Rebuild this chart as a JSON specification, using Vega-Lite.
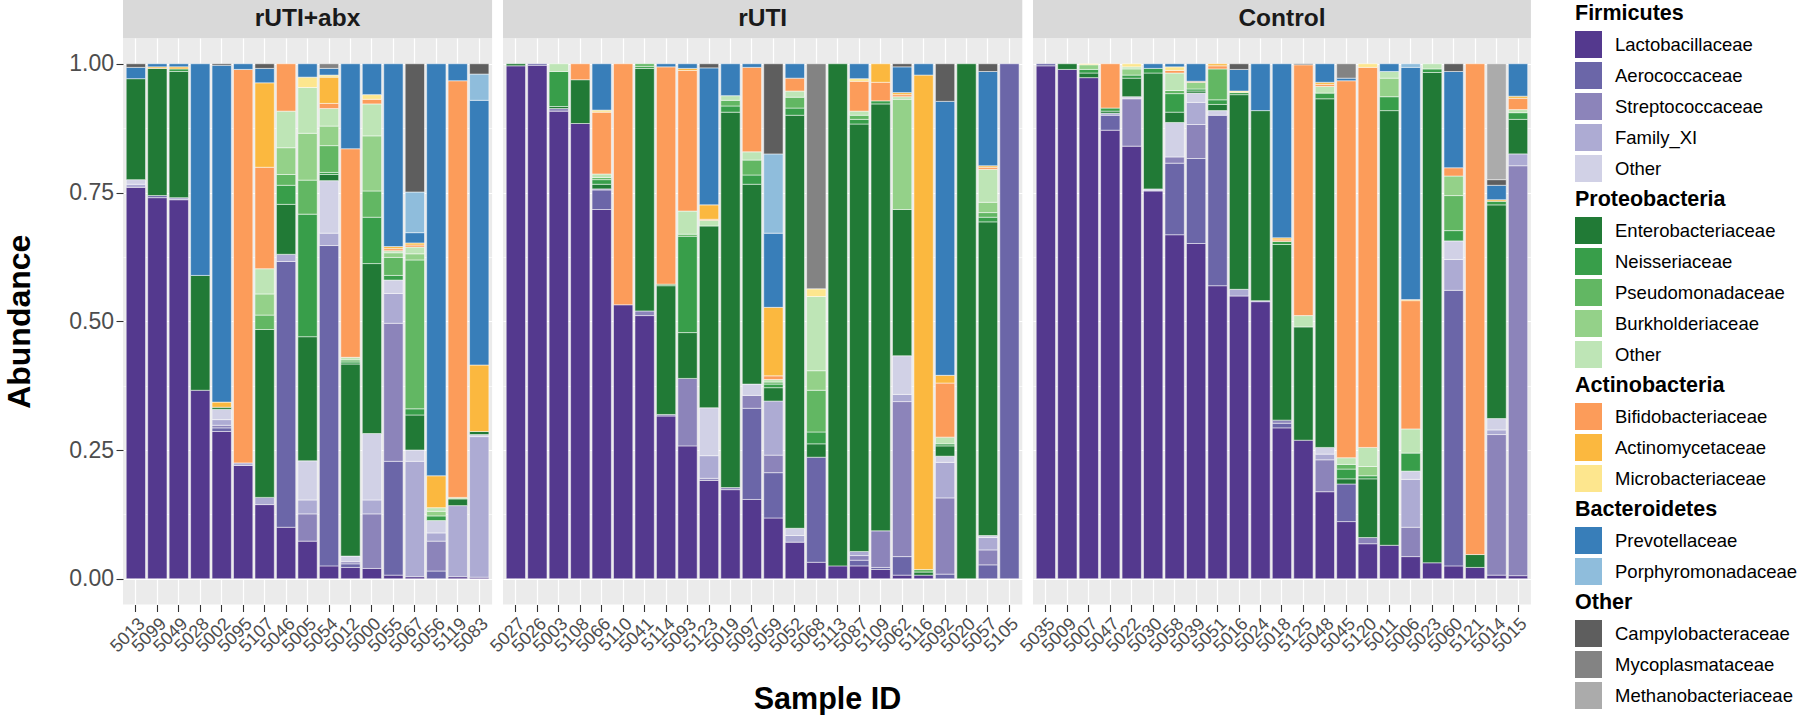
{
  "$schema": "https://vega.github.io/schema/vega-lite/v6.json",
  "padding": {"left": 3, "top": 0, "right": 0, "bottom": 0},
  "background": "white",
  "config": {
    "font": "Liberation Sans",
    "view": {"stroke": null},
    "legend": {
      "orient": "right", "offset": 44, "padding": 0, "symbolType": "square", "symbolSize": 729,
      "symbolStrokeWidth": 0, "symbolOpacity": 1, "rowPadding": 4,
      "labelColor": "black", "labelLimit": 260
    }
  },
  "datasets": {
    "panels": [{"p": "rUTI+abx"}, {"p": "rUTI"}, {"p": "Control"}],
    "fam": [
      {"c": "L", "f": "Lactobacillaceae", "rank": 1},
      {"c": "A", "f": "Aerococcaceae", "rank": 2},
      {"c": "S", "f": "Streptococcaceae", "rank": 3},
      {"c": "F", "f": "Family_XI", "rank": 4},
      {"c": "FO", "f": "Other (Firmicutes)", "rank": 5},
      {"c": "E", "f": "Enterobacteriaceae", "rank": 6},
      {"c": "N", "f": "Neisseriaceae", "rank": 7},
      {"c": "P", "f": "Pseudomonadaceae", "rank": 8},
      {"c": "B", "f": "Burkholderiaceae", "rank": 9},
      {"c": "PO", "f": "Other (Proteobacteria)", "rank": 10},
      {"c": "Bi", "f": "Bifidobacteriaceae", "rank": 11},
      {"c": "Ac", "f": "Actinomycetaceae", "rank": 12},
      {"c": "Mi", "f": "Microbacteriaceae", "rank": 13},
      {"c": "Pr", "f": "Prevotellaceae", "rank": 14},
      {"c": "Po", "f": "Porphyromonadaceae", "rank": 15},
      {"c": "C", "f": "Campylobacteraceae", "rank": 16},
      {"c": "My", "f": "Mycoplasmataceae", "rank": 17},
      {"c": "Me", "f": "Methanobacteriaceae", "rank": 18}
    ],
    "ab": [
      {"p":"rUTI+abx","s":"5013","c":"L","v":0.760},{"p":"rUTI+abx","s":"5013","c":"F","v":0.006},{"p":"rUTI+abx","s":"5013","c":"FO","v":0.009},{"p":"rUTI+abx","s":"5013","c":"E","v":0.196},{"p":"rUTI+abx","s":"5013","c":"Pr","v":0.022},{"p":"rUTI+abx","s":"5013","c":"C","v":0.007},
      {"p":"rUTI+abx","s":"5099","c":"L","v":0.740},{"p":"rUTI+abx","s":"5099","c":"A","v":0.004},{"p":"rUTI+abx","s":"5099","c":"E","v":0.247},{"p":"rUTI+abx","s":"5099","c":"Ac","v":0.003},{"p":"rUTI+abx","s":"5099","c":"Pr","v":0.006},
      {"p":"rUTI+abx","s":"5049","c":"L","v":0.736},{"p":"rUTI+abx","s":"5049","c":"F","v":0.004},{"p":"rUTI+abx","s":"5049","c":"E","v":0.245},{"p":"rUTI+abx","s":"5049","c":"N","v":0.005},{"p":"rUTI+abx","s":"5049","c":"Ac","v":0.004},{"p":"rUTI+abx","s":"5049","c":"Pr","v":0.006},
      {"p":"rUTI+abx","s":"5028","c":"L","v":0.366},{"p":"rUTI+abx","s":"5028","c":"E","v":0.223},{"p":"rUTI+abx","s":"5028","c":"Pr","v":0.411},
      {"p":"rUTI+abx","s":"5002","c":"L","v":0.286},{"p":"rUTI+abx","s":"5002","c":"A","v":0.007},{"p":"rUTI+abx","s":"5002","c":"S","v":0.005},{"p":"rUTI+abx","s":"5002","c":"F","v":0.011},{"p":"rUTI+abx","s":"5002","c":"FO","v":0.020},{"p":"rUTI+abx","s":"5002","c":"E","v":0.004},{"p":"rUTI+abx","s":"5002","c":"Ac","v":0.010},{"p":"rUTI+abx","s":"5002","c":"Pr","v":0.654},{"p":"rUTI+abx","s":"5002","c":"C","v":0.003},
      {"p":"rUTI+abx","s":"5095","c":"L","v":0.220},{"p":"rUTI+abx","s":"5095","c":"F","v":0.005},{"p":"rUTI+abx","s":"5095","c":"Bi","v":0.764},{"p":"rUTI+abx","s":"5095","c":"Pr","v":0.011},
      {"p":"rUTI+abx","s":"5107","c":"L","v":0.144},{"p":"rUTI+abx","s":"5107","c":"F","v":0.014},{"p":"rUTI+abx","s":"5107","c":"E","v":0.326},{"p":"rUTI+abx","s":"5107","c":"P","v":0.028},{"p":"rUTI+abx","s":"5107","c":"B","v":0.041},{"p":"rUTI+abx","s":"5107","c":"PO","v":0.049},{"p":"rUTI+abx","s":"5107","c":"Bi","v":0.197},{"p":"rUTI+abx","s":"5107","c":"Ac","v":0.164},{"p":"rUTI+abx","s":"5107","c":"Pr","v":0.028},{"p":"rUTI+abx","s":"5107","c":"C","v":0.009},
      {"p":"rUTI+abx","s":"5046","c":"L","v":0.100},{"p":"rUTI+abx","s":"5046","c":"A","v":0.516},{"p":"rUTI+abx","s":"5046","c":"F","v":0.014},{"p":"rUTI+abx","s":"5046","c":"E","v":0.097},{"p":"rUTI+abx","s":"5046","c":"N","v":0.037},{"p":"rUTI+abx","s":"5046","c":"P","v":0.021},{"p":"rUTI+abx","s":"5046","c":"B","v":0.052},{"p":"rUTI+abx","s":"5046","c":"PO","v":0.071},{"p":"rUTI+abx","s":"5046","c":"Bi","v":0.092},
      {"p":"rUTI+abx","s":"5005","c":"L","v":0.073},{"p":"rUTI+abx","s":"5005","c":"S","v":0.053},{"p":"rUTI+abx","s":"5005","c":"F","v":0.027},{"p":"rUTI+abx","s":"5005","c":"FO","v":0.076},{"p":"rUTI+abx","s":"5005","c":"E","v":0.241},{"p":"rUTI+abx","s":"5005","c":"N","v":0.238},{"p":"rUTI+abx","s":"5005","c":"P","v":0.066},{"p":"rUTI+abx","s":"5005","c":"B","v":0.091},{"p":"rUTI+abx","s":"5005","c":"PO","v":0.089},{"p":"rUTI+abx","s":"5005","c":"Mi","v":0.020},{"p":"rUTI+abx","s":"5005","c":"Pr","v":0.026},
      {"p":"rUTI+abx","s":"5054","c":"L","v":0.025},{"p":"rUTI+abx","s":"5054","c":"A","v":0.622},{"p":"rUTI+abx","s":"5054","c":"F","v":0.024},{"p":"rUTI+abx","s":"5054","c":"FO","v":0.102},{"p":"rUTI+abx","s":"5054","c":"E","v":0.012},{"p":"rUTI+abx","s":"5054","c":"N","v":0.004},{"p":"rUTI+abx","s":"5054","c":"P","v":0.052},{"p":"rUTI+abx","s":"5054","c":"B","v":0.038},{"p":"rUTI+abx","s":"5054","c":"PO","v":0.034},{"p":"rUTI+abx","s":"5054","c":"Bi","v":0.010},{"p":"rUTI+abx","s":"5054","c":"Ac","v":0.051},{"p":"rUTI+abx","s":"5054","c":"Mi","v":0.004},{"p":"rUTI+abx","s":"5054","c":"Pr","v":0.013},{"p":"rUTI+abx","s":"5054","c":"My","v":0.009},
      {"p":"rUTI+abx","s":"5012","c":"L","v":0.022},{"p":"rUTI+abx","s":"5012","c":"A","v":0.007},{"p":"rUTI+abx","s":"5012","c":"S","v":0.004},{"p":"rUTI+abx","s":"5012","c":"FO","v":0.011},{"p":"rUTI+abx","s":"5012","c":"E","v":0.373},{"p":"rUTI+abx","s":"5012","c":"N","v":0.004},{"p":"rUTI+abx","s":"5012","c":"P","v":0.004},{"p":"rUTI+abx","s":"5012","c":"PO","v":0.005},{"p":"rUTI+abx","s":"5012","c":"Bi","v":0.405},{"p":"rUTI+abx","s":"5012","c":"Pr","v":0.165},
      {"p":"rUTI+abx","s":"5000","c":"L","v":0.020},{"p":"rUTI+abx","s":"5000","c":"S","v":0.106},{"p":"rUTI+abx","s":"5000","c":"F","v":0.027},{"p":"rUTI+abx","s":"5000","c":"FO","v":0.129},{"p":"rUTI+abx","s":"5000","c":"E","v":0.330},{"p":"rUTI+abx","s":"5000","c":"N","v":0.090},{"p":"rUTI+abx","s":"5000","c":"P","v":0.051},{"p":"rUTI+abx","s":"5000","c":"B","v":0.107},{"p":"rUTI+abx","s":"5000","c":"PO","v":0.062},{"p":"rUTI+abx","s":"5000","c":"Bi","v":0.009},{"p":"rUTI+abx","s":"5000","c":"Mi","v":0.009},{"p":"rUTI+abx","s":"5000","c":"Pr","v":0.060},
      {"p":"rUTI+abx","s":"5055","c":"L","v":0.007},{"p":"rUTI+abx","s":"5055","c":"A","v":0.221},{"p":"rUTI+abx","s":"5055","c":"S","v":0.268},{"p":"rUTI+abx","s":"5055","c":"F","v":0.058},{"p":"rUTI+abx","s":"5055","c":"FO","v":0.026},{"p":"rUTI+abx","s":"5055","c":"N","v":0.009},{"p":"rUTI+abx","s":"5055","c":"P","v":0.035},{"p":"rUTI+abx","s":"5055","c":"B","v":0.009},{"p":"rUTI+abx","s":"5055","c":"PO","v":0.004},{"p":"rUTI+abx","s":"5055","c":"Bi","v":0.004},{"p":"rUTI+abx","s":"5055","c":"Ac","v":0.004},{"p":"rUTI+abx","s":"5055","c":"Pr","v":0.355},
      {"p":"rUTI+abx","s":"5067","c":"L","v":0.004},{"p":"rUTI+abx","s":"5067","c":"F","v":0.224},{"p":"rUTI+abx","s":"5067","c":"FO","v":0.022},{"p":"rUTI+abx","s":"5067","c":"E","v":0.068},{"p":"rUTI+abx","s":"5067","c":"N","v":0.012},{"p":"rUTI+abx","s":"5067","c":"P","v":0.289},{"p":"rUTI+abx","s":"5067","c":"B","v":0.012},{"p":"rUTI+abx","s":"5067","c":"PO","v":0.013},{"p":"rUTI+abx","s":"5067","c":"Bi","v":0.004},{"p":"rUTI+abx","s":"5067","c":"Ac","v":0.004},{"p":"rUTI+abx","s":"5067","c":"Pr","v":0.020},{"p":"rUTI+abx","s":"5067","c":"Po","v":0.079},{"p":"rUTI+abx","s":"5067","c":"C","v":0.249},
      {"p":"rUTI+abx","s":"5056","c":"A","v":0.015},{"p":"rUTI+abx","s":"5056","c":"S","v":0.058},{"p":"rUTI+abx","s":"5056","c":"F","v":0.016},{"p":"rUTI+abx","s":"5056","c":"FO","v":0.024},{"p":"rUTI+abx","s":"5056","c":"N","v":0.009},{"p":"rUTI+abx","s":"5056","c":"B","v":0.009},{"p":"rUTI+abx","s":"5056","c":"PO","v":0.007},{"p":"rUTI+abx","s":"5056","c":"Ac","v":0.062},{"p":"rUTI+abx","s":"5056","c":"Pr","v":0.800},
      {"p":"rUTI+abx","s":"5119","c":"L","v":0.004},{"p":"rUTI+abx","s":"5119","c":"F","v":0.138},{"p":"rUTI+abx","s":"5119","c":"E","v":0.013},{"p":"rUTI+abx","s":"5119","c":"PO","v":0.003},{"p":"rUTI+abx","s":"5119","c":"Bi","v":0.809},{"p":"rUTI+abx","s":"5119","c":"Pr","v":0.033},
      {"p":"rUTI+abx","s":"5083","c":"L","v":0.003},{"p":"rUTI+abx","s":"5083","c":"F","v":0.273},{"p":"rUTI+abx","s":"5083","c":"FO","v":0.004},{"p":"rUTI+abx","s":"5083","c":"E","v":0.006},{"p":"rUTI+abx","s":"5083","c":"Ac","v":0.129},{"p":"rUTI+abx","s":"5083","c":"Pr","v":0.514},{"p":"rUTI+abx","s":"5083","c":"Po","v":0.051},{"p":"rUTI+abx","s":"5083","c":"C","v":0.020},

      {"p":"rUTI","s":"5027","c":"L","v":0.996},{"p":"rUTI","s":"5027","c":"E","v":0.004},
      {"p":"rUTI","s":"5026","c":"L","v":0.997},{"p":"rUTI","s":"5026","c":"A","v":0.003},
      {"p":"rUTI","s":"5003","c":"L","v":0.908},{"p":"rUTI","s":"5003","c":"S","v":0.005},{"p":"rUTI","s":"5003","c":"E","v":0.004},{"p":"rUTI","s":"5003","c":"N","v":0.068},{"p":"rUTI","s":"5003","c":"PO","v":0.015},
      {"p":"rUTI","s":"5108","c":"L","v":0.884},{"p":"rUTI","s":"5108","c":"E","v":0.085},{"p":"rUTI","s":"5108","c":"Bi","v":0.031},
      {"p":"rUTI","s":"5066","c":"L","v":0.717},{"p":"rUTI","s":"5066","c":"A","v":0.038},{"p":"rUTI","s":"5066","c":"S","v":0.002},{"p":"rUTI","s":"5066","c":"E","v":0.009},{"p":"rUTI","s":"5066","c":"N","v":0.009},{"p":"rUTI","s":"5066","c":"P","v":0.004},{"p":"rUTI","s":"5066","c":"PO","v":0.007},{"p":"rUTI","s":"5066","c":"Bi","v":0.120},{"p":"rUTI","s":"5066","c":"Mi","v":0.004},{"p":"rUTI","s":"5066","c":"Pr","v":0.090},
      {"p":"rUTI","s":"5110","c":"L","v":0.532},{"p":"rUTI","s":"5110","c":"Bi","v":0.468},
      {"p":"rUTI","s":"5041","c":"L","v":0.511},{"p":"rUTI","s":"5041","c":"S","v":0.009},{"p":"rUTI","s":"5041","c":"E","v":0.471},{"p":"rUTI","s":"5041","c":"N","v":0.004},{"p":"rUTI","s":"5041","c":"P","v":0.005},
      {"p":"rUTI","s":"5114","c":"L","v":0.316},{"p":"rUTI","s":"5114","c":"S","v":0.003},{"p":"rUTI","s":"5114","c":"E","v":0.250},{"p":"rUTI","s":"5114","c":"N","v":0.003},{"p":"rUTI","s":"5114","c":"Bi","v":0.422},{"p":"rUTI","s":"5114","c":"Pr","v":0.006},
      {"p":"rUTI","s":"5093","c":"L","v":0.258},{"p":"rUTI","s":"5093","c":"S","v":0.131},{"p":"rUTI","s":"5093","c":"E","v":0.089},{"p":"rUTI","s":"5093","c":"N","v":0.187},{"p":"rUTI","s":"5093","c":"P","v":0.004},{"p":"rUTI","s":"5093","c":"PO","v":0.045},{"p":"rUTI","s":"5093","c":"Bi","v":0.273},{"p":"rUTI","s":"5093","c":"Ac","v":0.004},{"p":"rUTI","s":"5093","c":"Pr","v":0.009},
      {"p":"rUTI","s":"5123","c":"L","v":0.191},{"p":"rUTI","s":"5123","c":"S","v":0.004},{"p":"rUTI","s":"5123","c":"F","v":0.044},{"p":"rUTI","s":"5123","c":"FO","v":0.093},{"p":"rUTI","s":"5123","c":"E","v":0.353},{"p":"rUTI","s":"5123","c":"PO","v":0.011},{"p":"rUTI","s":"5123","c":"Bi","v":0.002},{"p":"rUTI","s":"5123","c":"Ac","v":0.028},{"p":"rUTI","s":"5123","c":"Pr","v":0.266},{"p":"rUTI","s":"5123","c":"C","v":0.008},
      {"p":"rUTI","s":"5019","c":"L","v":0.173},{"p":"rUTI","s":"5019","c":"S","v":0.004},{"p":"rUTI","s":"5019","c":"E","v":0.729},{"p":"rUTI","s":"5019","c":"N","v":0.012},{"p":"rUTI","s":"5019","c":"P","v":0.011},{"p":"rUTI","s":"5019","c":"PO","v":0.009},{"p":"rUTI","s":"5019","c":"Pr","v":0.062},
      {"p":"rUTI","s":"5097","c":"L","v":0.154},{"p":"rUTI","s":"5097","c":"A","v":0.177},{"p":"rUTI","s":"5097","c":"S","v":0.025},{"p":"rUTI","s":"5097","c":"FO","v":0.022},{"p":"rUTI","s":"5097","c":"E","v":0.388},{"p":"rUTI","s":"5097","c":"N","v":0.018},{"p":"rUTI","s":"5097","c":"P","v":0.029},{"p":"rUTI","s":"5097","c":"PO","v":0.016},{"p":"rUTI","s":"5097","c":"Bi","v":0.164},{"p":"rUTI","s":"5097","c":"Pr","v":0.007},
      {"p":"rUTI","s":"5059","c":"L","v":0.118},{"p":"rUTI","s":"5059","c":"A","v":0.088},{"p":"rUTI","s":"5059","c":"S","v":0.034},{"p":"rUTI","s":"5059","c":"F","v":0.105},{"p":"rUTI","s":"5059","c":"E","v":0.026},{"p":"rUTI","s":"5059","c":"N","v":0.007},{"p":"rUTI","s":"5059","c":"P","v":0.004},{"p":"rUTI","s":"5059","c":"PO","v":0.005},{"p":"rUTI","s":"5059","c":"Bi","v":0.007},{"p":"rUTI","s":"5059","c":"Ac","v":0.133},{"p":"rUTI","s":"5059","c":"Pr","v":0.144},{"p":"rUTI","s":"5059","c":"Po","v":0.154},{"p":"rUTI","s":"5059","c":"C","v":0.175},
      {"p":"rUTI","s":"5052","c":"L","v":0.071},{"p":"rUTI","s":"5052","c":"F","v":0.013},{"p":"rUTI","s":"5052","c":"FO","v":0.014},{"p":"rUTI","s":"5052","c":"E","v":0.802},{"p":"rUTI","s":"5052","c":"N","v":0.014},{"p":"rUTI","s":"5052","c":"P","v":0.021},{"p":"rUTI","s":"5052","c":"PO","v":0.012},{"p":"rUTI","s":"5052","c":"Bi","v":0.025},{"p":"rUTI","s":"5052","c":"Pr","v":0.028},
      {"p":"rUTI","s":"5068","c":"L","v":0.032},{"p":"rUTI","s":"5068","c":"A","v":0.204},{"p":"rUTI","s":"5068","c":"E","v":0.026},{"p":"rUTI","s":"5068","c":"N","v":0.023},{"p":"rUTI","s":"5068","c":"P","v":0.081},{"p":"rUTI","s":"5068","c":"B","v":0.038},{"p":"rUTI","s":"5068","c":"PO","v":0.144},{"p":"rUTI","s":"5068","c":"Mi","v":0.015},{"p":"rUTI","s":"5068","c":"My","v":0.437},
      {"p":"rUTI","s":"5113","c":"L","v":0.025},{"p":"rUTI","s":"5113","c":"E","v":0.975},
      {"p":"rUTI","s":"5087","c":"L","v":0.025},{"p":"rUTI","s":"5087","c":"A","v":0.011},{"p":"rUTI","s":"5087","c":"S","v":0.009},{"p":"rUTI","s":"5087","c":"F","v":0.008},{"p":"rUTI","s":"5087","c":"E","v":0.830},{"p":"rUTI","s":"5087","c":"N","v":0.009},{"p":"rUTI","s":"5087","c":"P","v":0.008},{"p":"rUTI","s":"5087","c":"PO","v":0.008},{"p":"rUTI","s":"5087","c":"Bi","v":0.058},{"p":"rUTI","s":"5087","c":"Mi","v":0.005},{"p":"rUTI","s":"5087","c":"Pr","v":0.029},
      {"p":"rUTI","s":"5109","c":"L","v":0.018},{"p":"rUTI","s":"5109","c":"A","v":0.004},{"p":"rUTI","s":"5109","c":"S","v":0.071},{"p":"rUTI","s":"5109","c":"E","v":0.829},{"p":"rUTI","s":"5109","c":"N","v":0.006},{"p":"rUTI","s":"5109","c":"Bi","v":0.036},{"p":"rUTI","s":"5109","c":"Ac","v":0.036},
      {"p":"rUTI","s":"5062","c":"L","v":0.007},{"p":"rUTI","s":"5062","c":"A","v":0.036},{"p":"rUTI","s":"5062","c":"S","v":0.301},{"p":"rUTI","s":"5062","c":"F","v":0.014},{"p":"rUTI","s":"5062","c":"FO","v":0.075},{"p":"rUTI","s":"5062","c":"E","v":0.284},{"p":"rUTI","s":"5062","c":"B","v":0.214},{"p":"rUTI","s":"5062","c":"PO","v":0.005},{"p":"rUTI","s":"5062","c":"Bi","v":0.004},{"p":"rUTI","s":"5062","c":"Ac","v":0.004},{"p":"rUTI","s":"5062","c":"Pr","v":0.050},{"p":"rUTI","s":"5062","c":"C","v":0.006},
      {"p":"rUTI","s":"5116","c":"L","v":0.007},{"p":"rUTI","s":"5116","c":"E","v":0.006},{"p":"rUTI","s":"5116","c":"P","v":0.005},{"p":"rUTI","s":"5116","c":"Ac","v":0.960},{"p":"rUTI","s":"5116","c":"Pr","v":0.022},
      {"p":"rUTI","s":"5092","c":"A","v":0.009},{"p":"rUTI","s":"5092","c":"S","v":0.148},{"p":"rUTI","s":"5092","c":"F","v":0.069},{"p":"rUTI","s":"5092","c":"FO","v":0.012},{"p":"rUTI","s":"5092","c":"E","v":0.020},{"p":"rUTI","s":"5092","c":"N","v":0.004},{"p":"rUTI","s":"5092","c":"PO","v":0.013},{"p":"rUTI","s":"5092","c":"Bi","v":0.105},{"p":"rUTI","s":"5092","c":"Ac","v":0.015},{"p":"rUTI","s":"5092","c":"Pr","v":0.532},{"p":"rUTI","s":"5092","c":"C","v":0.073},
      {"p":"rUTI","s":"5020","c":"E","v":1.0},
      {"p":"rUTI","s":"5057","c":"A","v":0.027},{"p":"rUTI","s":"5057","c":"S","v":0.029},{"p":"rUTI","s":"5057","c":"F","v":0.024},{"p":"rUTI","s":"5057","c":"FO","v":0.004},{"p":"rUTI","s":"5057","c":"E","v":0.609},{"p":"rUTI","s":"5057","c":"N","v":0.009},{"p":"rUTI","s":"5057","c":"P","v":0.009},{"p":"rUTI","s":"5057","c":"B","v":0.020},{"p":"rUTI","s":"5057","c":"PO","v":0.064},{"p":"rUTI","s":"5057","c":"Bi","v":0.004},{"p":"rUTI","s":"5057","c":"Ac","v":0.003},{"p":"rUTI","s":"5057","c":"Pr","v":0.183},{"p":"rUTI","s":"5057","c":"C","v":0.015},
      {"p":"rUTI","s":"5105","c":"A","v":1.0},

      {"p":"Control","s":"5035","c":"L","v":0.996},{"p":"Control","s":"5035","c":"A","v":0.004},
      {"p":"Control","s":"5009","c":"L","v":0.989},{"p":"Control","s":"5009","c":"E","v":0.011},
      {"p":"Control","s":"5007","c":"L","v":0.973},{"p":"Control","s":"5007","c":"E","v":0.009},{"p":"Control","s":"5007","c":"N","v":0.007},{"p":"Control","s":"5007","c":"B","v":0.009},{"p":"Control","s":"5007","c":"Mi","v":0.002},
      {"p":"Control","s":"5047","c":"L","v":0.871},{"p":"Control","s":"5047","c":"A","v":0.029},{"p":"Control","s":"5047","c":"F","v":0.004},{"p":"Control","s":"5047","c":"E","v":0.004},{"p":"Control","s":"5047","c":"N","v":0.006},{"p":"Control","s":"5047","c":"Bi","v":0.086},
      {"p":"Control","s":"5022","c":"L","v":0.840},{"p":"Control","s":"5022","c":"S","v":0.092},{"p":"Control","s":"5022","c":"FO","v":0.004},{"p":"Control","s":"5022","c":"E","v":0.036},{"p":"Control","s":"5022","c":"N","v":0.006},{"p":"Control","s":"5022","c":"B","v":0.012},{"p":"Control","s":"5022","c":"PO","v":0.004},{"p":"Control","s":"5022","c":"Mi","v":0.006},
      {"p":"Control","s":"5030","c":"L","v":0.753},{"p":"Control","s":"5030","c":"FO","v":0.004},{"p":"Control","s":"5030","c":"E","v":0.225},{"p":"Control","s":"5030","c":"N","v":0.009},{"p":"Control","s":"5030","c":"Pr","v":0.009},
      {"p":"Control","s":"5058","c":"L","v":0.668},{"p":"Control","s":"5058","c":"A","v":0.139},{"p":"Control","s":"5058","c":"S","v":0.012},{"p":"Control","s":"5058","c":"FO","v":0.067},{"p":"Control","s":"5058","c":"E","v":0.020},{"p":"Control","s":"5058","c":"N","v":0.036},{"p":"Control","s":"5058","c":"P","v":0.006},{"p":"Control","s":"5058","c":"PO","v":0.034},{"p":"Control","s":"5058","c":"Bi","v":0.005},{"p":"Control","s":"5058","c":"Mi","v":0.007},{"p":"Control","s":"5058","c":"Pr","v":0.006},
      {"p":"Control","s":"5039","c":"L","v":0.651},{"p":"Control","s":"5039","c":"A","v":0.165},{"p":"Control","s":"5039","c":"S","v":0.066},{"p":"Control","s":"5039","c":"F","v":0.043},{"p":"Control","s":"5039","c":"FO","v":0.018},{"p":"Control","s":"5039","c":"E","v":0.004},{"p":"Control","s":"5039","c":"N","v":0.004},{"p":"Control","s":"5039","c":"B","v":0.013},{"p":"Control","s":"5039","c":"Bi","v":0.002},{"p":"Control","s":"5039","c":"Pr","v":0.034},
      {"p":"Control","s":"5051","c":"L","v":0.569},{"p":"Control","s":"5051","c":"A","v":0.331},{"p":"Control","s":"5051","c":"FO","v":0.009},{"p":"Control","s":"5051","c":"E","v":0.012},{"p":"Control","s":"5051","c":"N","v":0.009},{"p":"Control","s":"5051","c":"P","v":0.060},{"p":"Control","s":"5051","c":"Bi","v":0.006},{"p":"Control","s":"5051","c":"Ac","v":0.004},
      {"p":"Control","s":"5016","c":"L","v":0.549},{"p":"Control","s":"5016","c":"F","v":0.013},{"p":"Control","s":"5016","c":"E","v":0.378},{"p":"Control","s":"5016","c":"N","v":0.004},{"p":"Control","s":"5016","c":"Mi","v":0.003},{"p":"Control","s":"5016","c":"Pr","v":0.042},{"p":"Control","s":"5016","c":"C","v":0.011},
      {"p":"Control","s":"5024","c":"L","v":0.538},{"p":"Control","s":"5024","c":"F","v":0.002},{"p":"Control","s":"5024","c":"E","v":0.369},{"p":"Control","s":"5024","c":"Pr","v":0.091},
      {"p":"Control","s":"5018","c":"L","v":0.293},{"p":"Control","s":"5018","c":"A","v":0.009},{"p":"Control","s":"5018","c":"S","v":0.006},{"p":"Control","s":"5018","c":"E","v":0.341},{"p":"Control","s":"5018","c":"N","v":0.006},{"p":"Control","s":"5018","c":"Bi","v":0.003},{"p":"Control","s":"5018","c":"Ac","v":0.004},{"p":"Control","s":"5018","c":"Pr","v":0.338},
      {"p":"Control","s":"5125","c":"L","v":0.269},{"p":"Control","s":"5125","c":"E","v":0.220},{"p":"Control","s":"5125","c":"PO","v":0.022},{"p":"Control","s":"5125","c":"Bi","v":0.487},{"p":"Control","s":"5125","c":"C","v":0.002},
      {"p":"Control","s":"5048","c":"L","v":0.169},{"p":"Control","s":"5048","c":"S","v":0.062},{"p":"Control","s":"5048","c":"F","v":0.011},{"p":"Control","s":"5048","c":"FO","v":0.013},{"p":"Control","s":"5048","c":"E","v":0.677},{"p":"Control","s":"5048","c":"N","v":0.011},{"p":"Control","s":"5048","c":"PO","v":0.013},{"p":"Control","s":"5048","c":"Bi","v":0.004},{"p":"Control","s":"5048","c":"Ac","v":0.004},{"p":"Control","s":"5048","c":"Pr","v":0.036},
      {"p":"Control","s":"5045","c":"L","v":0.111},{"p":"Control","s":"5045","c":"A","v":0.073},{"p":"Control","s":"5045","c":"E","v":0.010},{"p":"Control","s":"5045","c":"N","v":0.019},{"p":"Control","s":"5045","c":"P","v":0.009},{"p":"Control","s":"5045","c":"PO","v":0.013},{"p":"Control","s":"5045","c":"Bi","v":0.732},{"p":"Control","s":"5045","c":"Pr","v":0.005},{"p":"Control","s":"5045","c":"My","v":0.028},
      {"p":"Control","s":"5120","c":"L","v":0.068},{"p":"Control","s":"5120","c":"S","v":0.012},{"p":"Control","s":"5120","c":"E","v":0.114},{"p":"Control","s":"5120","c":"N","v":0.006},{"p":"Control","s":"5120","c":"B","v":0.018},{"p":"Control","s":"5120","c":"PO","v":0.037},{"p":"Control","s":"5120","c":"Bi","v":0.738},{"p":"Control","s":"5120","c":"Mi","v":0.007},
      {"p":"Control","s":"5011","c":"L","v":0.065},{"p":"Control","s":"5011","c":"E","v":0.844},{"p":"Control","s":"5011","c":"N","v":0.027},{"p":"Control","s":"5011","c":"B","v":0.036},{"p":"Control","s":"5011","c":"PO","v":0.013},{"p":"Control","s":"5011","c":"Pr","v":0.015},
      {"p":"Control","s":"5006","c":"L","v":0.043},{"p":"Control","s":"5006","c":"S","v":0.057},{"p":"Control","s":"5006","c":"F","v":0.093},{"p":"Control","s":"5006","c":"FO","v":0.016},{"p":"Control","s":"5006","c":"N","v":0.035},{"p":"Control","s":"5006","c":"PO","v":0.047},{"p":"Control","s":"5006","c":"Bi","v":0.249},{"p":"Control","s":"5006","c":"Ac","v":0.002},{"p":"Control","s":"5006","c":"Pr","v":0.451},{"p":"Control","s":"5006","c":"Po","v":0.007},
      {"p":"Control","s":"5023","c":"L","v":0.031},{"p":"Control","s":"5023","c":"E","v":0.952},{"p":"Control","s":"5023","c":"N","v":0.007},{"p":"Control","s":"5023","c":"PO","v":0.010},
      {"p":"Control","s":"5060","c":"L","v":0.025},{"p":"Control","s":"5060","c":"A","v":0.535},{"p":"Control","s":"5060","c":"F","v":0.060},{"p":"Control","s":"5060","c":"FO","v":0.036},{"p":"Control","s":"5060","c":"N","v":0.020},{"p":"Control","s":"5060","c":"P","v":0.068},{"p":"Control","s":"5060","c":"B","v":0.038},{"p":"Control","s":"5060","c":"Bi","v":0.016},{"p":"Control","s":"5060","c":"Pr","v":0.187},{"p":"Control","s":"5060","c":"C","v":0.015},
      {"p":"Control","s":"5121","c":"L","v":0.022},{"p":"Control","s":"5121","c":"E","v":0.025},{"p":"Control","s":"5121","c":"Bi","v":0.953},
      {"p":"Control","s":"5014","c":"L","v":0.007},{"p":"Control","s":"5014","c":"S","v":0.273},{"p":"Control","s":"5014","c":"F","v":0.009},{"p":"Control","s":"5014","c":"FO","v":0.022},{"p":"Control","s":"5014","c":"E","v":0.415},{"p":"Control","s":"5014","c":"N","v":0.007},{"p":"Control","s":"5014","c":"Ac","v":0.003},{"p":"Control","s":"5014","c":"Pr","v":0.028},{"p":"Control","s":"5014","c":"C","v":0.011},{"p":"Control","s":"5014","c":"Me","v":0.225},
      {"p":"Control","s":"5015","c":"L","v":0.006},{"p":"Control","s":"5015","c":"S","v":0.796},{"p":"Control","s":"5015","c":"F","v":0.023},{"p":"Control","s":"5015","c":"E","v":0.067},{"p":"Control","s":"5015","c":"N","v":0.013},{"p":"Control","s":"5015","c":"PO","v":0.006},{"p":"Control","s":"5015","c":"Bi","v":0.022},{"p":"Control","s":"5015","c":"Ac","v":0.004},{"p":"Control","s":"5015","c":"Pr","v":0.063}
    ]
  },
  "spacing": 0,
  "vconcat": [
    {
      "bounds": "flush",
      "spacing": 10,
      "hconcat": [
        {
          "width": 369.1, "height": 38,
          "view": {"fill": "#D9D9D9", "stroke": null},
          "data": {"name": "panels"},
          "transform": [{"filter": "datum.p == 'rUTI+abx'"}],
          "mark": {"type": "text", "fontSize": 24.5, "fontWeight": "bold", "color": "#1A1A1A"},
          "encoding": {"text": {"field": "p"}}
        },
        {
          "width": 519.3, "height": 38,
          "view": {"fill": "#D9D9D9", "stroke": null},
          "data": {"name": "panels"},
          "transform": [{"filter": "datum.p == 'rUTI'"}],
          "mark": {"type": "text", "fontSize": 24.5, "fontWeight": "bold", "color": "#1A1A1A"},
          "encoding": {"text": {"field": "p"}}
        },
        {
          "width": 497.9, "height": 38,
          "view": {"fill": "#D9D9D9", "stroke": null},
          "data": {"name": "panels"},
          "transform": [{"filter": "datum.p == 'Control'"}],
          "mark": {"type": "text", "fontSize": 24.5, "fontWeight": "bold", "color": "#1A1A1A"},
          "encoding": {"text": {"field": "p"}}
        }
      ]
    },
    {
      "bounds": "flush",
      "spacing": 10,
      "hconcat": [
        {
          "width": 369.1, "height": 566.5,
          "view": {"fill": "#EBEBEB", "stroke": null},
          "data": {"name": "ab"},
          "transform": [
            {"filter": "datum.p == 'rUTI+abx'"},
            {"lookup": "c", "from": {"data": {"name": "fam"}, "key": "c", "fields": ["f", "rank"]}}
          ],
          "mark": {"type": "bar", "stroke": "white", "strokeWidth": 0.5},
          "encoding": {
            "x": {"field": "s", "type": "nominal",
              "sort": ["5013","5099","5049","5028","5002","5095","5107","5046","5005","5054","5012","5000","5055","5067","5056","5119","5083"],
              "scale": {"paddingInner": 0.1, "paddingOuter": 0.15},
              "axis": {"title": null, "labelAngle": -45, "labelAlign": "right", "labelBaseline": "top", "labelFontSize": 18, "labelColor": "#4D4D4D", "labelPadding": 3, "tickSize": 7, "tickColor": "#333333", "tickWidth": 1.1, "domain": false, "grid": true, "gridColor": "white", "gridWidth": 1.2, "bandPosition": 0.5}},
            "y": {"field": "v", "type": "quantitative", "stack": "zero",
              "scale": {"domain": [-0.05, 1.05], "nice": false, "zero": false},
              "axis": {"values": [0, 0.125, 0.25, 0.375, 0.5, 0.625, 0.75, 0.875, 1], "format": ".2f", "labelOverlap": false,
                "labelOpacity": {"condition": {"test": "(datum.value * 4) % 1 != 0", "value": 0}, "value": 1},
                "tickOpacity": {"condition": {"test": "(datum.value * 4) % 1 != 0", "value": 0}, "value": 1},
                "gridWidth": {"condition": {"test": "(datum.value * 4) % 1 != 0", "value": 0.6}, "value": 1.2},
                "title": "Abundance", "titleFontSize": 32, "titleFontWeight": "bold", "titleColor": "black", "titlePadding": 32, "labelFontSize": 23, "labelColor": "#4D4D4D", "labelPadding": 2.5, "tickSize": 7, "tickColor": "#333333", "tickWidth": 1.1, "domain": false, "grid": true, "gridColor": "white"}},
            "color": {"field": "f", "type": "nominal",
              "scale": {
                "domain": ["Firmicutes","Lactobacillaceae","Aerococcaceae","Streptococcaceae","Family_XI","Other (Firmicutes)","Proteobacteria","Enterobacteriaceae","Neisseriaceae","Pseudomonadaceae","Burkholderiaceae","Other (Proteobacteria)","Actinobacteria","Bifidobacteriaceae","Actinomycetaceae","Microbacteriaceae","Bacteroidetes","Prevotellaceae","Porphyromonadaceae","Other","Campylobacteraceae","Mycoplasmataceae","Methanobacteriaceae"],
                "range": ["#ffffff","#54398E","#6B66A8","#8C84BA","#ADABD3","#D1D1E6","#ffffff","#217A36","#389E4A","#62B763","#94D189","#BEE5B6","#ffffff","#FC9C5A","#FBB83F","#FDE68E","#ffffff","#387EB9","#8FBDDC","#ffffff","#5E5E5E","#838383","#ABABAB"]
              },
              "legend": {"title": null, "labelExpr": "split(datum.label, ' (')[0]",
                "labelFontWeight": {"expr": "indexof(['Firmicutes','Proteobacteria','Actinobacteria','Bacteroidetes','Other'], datum.value) >= 0 ? 'bold' : 'normal'"},
                "labelFontSize": {"expr": "indexof(['Firmicutes','Proteobacteria','Actinobacteria','Bacteroidetes','Other'], datum.value) >= 0 ? 21.5 : 18.5"},
                "labelOffset": {"expr": "indexof(['Firmicutes','Proteobacteria','Actinobacteria','Bacteroidetes','Other'], datum.value) >= 0 ? -27 : 13"}}},
            "order": {"field": "rank", "type": "quantitative", "sort": "ascending"}
          }
        },
        {
          "width": 519.3, "height": 566.5,
          "view": {"fill": "#EBEBEB", "stroke": null},
          "data": {"name": "ab"},
          "transform": [
            {"filter": "datum.p == 'rUTI'"},
            {"lookup": "c", "from": {"data": {"name": "fam"}, "key": "c", "fields": ["f", "rank"]}}
          ],
          "mark": {"type": "bar", "stroke": "white", "strokeWidth": 0.5},
          "encoding": {
            "x": {"field": "s", "type": "nominal",
              "sort": ["5027","5026","5003","5108","5066","5110","5041","5114","5093","5123","5019","5097","5059","5052","5068","5113","5087","5109","5062","5116","5092","5020","5057","5105"],
              "scale": {"paddingInner": 0.1, "paddingOuter": 0.15},
              "axis": {"title": "Sample ID", "titleFontSize": 30.5, "titleFontWeight": "bold", "titleColor": "black", "titleX": 324, "titleY": 104, "titleAlign": "center", "titleBaseline": "alphabetic", "labelAngle": -45, "labelAlign": "right", "labelBaseline": "top", "labelFontSize": 18, "labelColor": "#4D4D4D", "labelPadding": 3, "tickSize": 7, "tickColor": "#333333", "tickWidth": 1.1, "domain": false, "grid": true, "gridColor": "white", "gridWidth": 1.2, "bandPosition": 0.5}},
            "y": {"field": "v", "type": "quantitative", "stack": "zero",
              "scale": {"domain": [-0.05, 1.05], "nice": false, "zero": false},
              "axis": {"values": [0, 0.125, 0.25, 0.375, 0.5, 0.625, 0.75, 0.875, 1], "title": null, "labels": false, "ticks": false, "domain": false, "grid": true, "gridColor": "white",
                "gridWidth": {"condition": {"test": "(datum.value * 4) % 1 != 0", "value": 0.6}, "value": 1.2}}},
            "color": {"field": "f", "type": "nominal",
              "scale": {
                "domain": ["Firmicutes","Lactobacillaceae","Aerococcaceae","Streptococcaceae","Family_XI","Other (Firmicutes)","Proteobacteria","Enterobacteriaceae","Neisseriaceae","Pseudomonadaceae","Burkholderiaceae","Other (Proteobacteria)","Actinobacteria","Bifidobacteriaceae","Actinomycetaceae","Microbacteriaceae","Bacteroidetes","Prevotellaceae","Porphyromonadaceae","Other","Campylobacteraceae","Mycoplasmataceae","Methanobacteriaceae"],
                "range": ["#ffffff","#54398E","#6B66A8","#8C84BA","#ADABD3","#D1D1E6","#ffffff","#217A36","#389E4A","#62B763","#94D189","#BEE5B6","#ffffff","#FC9C5A","#FBB83F","#FDE68E","#ffffff","#387EB9","#8FBDDC","#ffffff","#5E5E5E","#838383","#ABABAB"]
              },
              "legend": {"title": null, "labelExpr": "split(datum.label, ' (')[0]",
                "labelFontWeight": {"expr": "indexof(['Firmicutes','Proteobacteria','Actinobacteria','Bacteroidetes','Other'], datum.value) >= 0 ? 'bold' : 'normal'"},
                "labelFontSize": {"expr": "indexof(['Firmicutes','Proteobacteria','Actinobacteria','Bacteroidetes','Other'], datum.value) >= 0 ? 21.5 : 18.5"},
                "labelOffset": {"expr": "indexof(['Firmicutes','Proteobacteria','Actinobacteria','Bacteroidetes','Other'], datum.value) >= 0 ? -27 : 13"}}},
            "order": {"field": "rank", "type": "quantitative", "sort": "ascending"}
          }
        },
        {
          "width": 497.9, "height": 566.5,
          "view": {"fill": "#EBEBEB", "stroke": null},
          "data": {"name": "ab"},
          "transform": [
            {"filter": "datum.p == 'Control'"},
            {"lookup": "c", "from": {"data": {"name": "fam"}, "key": "c", "fields": ["f", "rank"]}}
          ],
          "mark": {"type": "bar", "stroke": "white", "strokeWidth": 0.5},
          "encoding": {
            "x": {"field": "s", "type": "nominal",
              "sort": ["5035","5009","5007","5047","5022","5030","5058","5039","5051","5016","5024","5018","5125","5048","5045","5120","5011","5006","5023","5060","5121","5014","5015"],
              "scale": {"paddingInner": 0.1, "paddingOuter": 0.15},
              "axis": {"title": null, "labelAngle": -45, "labelAlign": "right", "labelBaseline": "top", "labelFontSize": 18, "labelColor": "#4D4D4D", "labelPadding": 3, "tickSize": 7, "tickColor": "#333333", "tickWidth": 1.1, "domain": false, "grid": true, "gridColor": "white", "gridWidth": 1.2, "bandPosition": 0.5}},
            "y": {"field": "v", "type": "quantitative", "stack": "zero",
              "scale": {"domain": [-0.05, 1.05], "nice": false, "zero": false},
              "axis": {"values": [0, 0.125, 0.25, 0.375, 0.5, 0.625, 0.75, 0.875, 1], "title": null, "labels": false, "ticks": false, "domain": false, "grid": true, "gridColor": "white",
                "gridWidth": {"condition": {"test": "(datum.value * 4) % 1 != 0", "value": 0.6}, "value": 1.2}}},
            "color": {"field": "f", "type": "nominal",
              "scale": {
                "domain": ["Firmicutes","Lactobacillaceae","Aerococcaceae","Streptococcaceae","Family_XI","Other (Firmicutes)","Proteobacteria","Enterobacteriaceae","Neisseriaceae","Pseudomonadaceae","Burkholderiaceae","Other (Proteobacteria)","Actinobacteria","Bifidobacteriaceae","Actinomycetaceae","Microbacteriaceae","Bacteroidetes","Prevotellaceae","Porphyromonadaceae","Other","Campylobacteraceae","Mycoplasmataceae","Methanobacteriaceae"],
                "range": ["#ffffff","#54398E","#6B66A8","#8C84BA","#ADABD3","#D1D1E6","#ffffff","#217A36","#389E4A","#62B763","#94D189","#BEE5B6","#ffffff","#FC9C5A","#FBB83F","#FDE68E","#ffffff","#387EB9","#8FBDDC","#ffffff","#5E5E5E","#838383","#ABABAB"]
              },
              "legend": {"title": null, "labelExpr": "split(datum.label, ' (')[0]",
                "labelFontWeight": {"expr": "indexof(['Firmicutes','Proteobacteria','Actinobacteria','Bacteroidetes','Other'], datum.value) >= 0 ? 'bold' : 'normal'"},
                "labelFontSize": {"expr": "indexof(['Firmicutes','Proteobacteria','Actinobacteria','Bacteroidetes','Other'], datum.value) >= 0 ? 21.5 : 18.5"},
                "labelOffset": {"expr": "indexof(['Firmicutes','Proteobacteria','Actinobacteria','Bacteroidetes','Other'], datum.value) >= 0 ? -27 : 13"}}},
            "order": {"field": "rank", "type": "quantitative", "sort": "ascending"}
          }
        }
      ]
    }
  ]
}
